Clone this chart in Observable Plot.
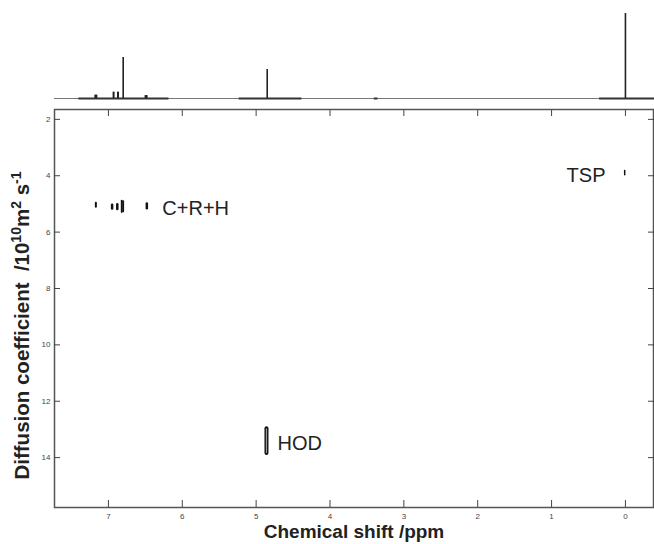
<!DOCTYPE html>
<html>
<head>
<meta charset="utf-8">
<script src="https://cdn.jsdelivr.net/npm/d3@7"></script>
<script src="https://cdn.jsdelivr.net/npm/@observablehq/plot@0.6"></script>
<style>
  html, body { margin: 0; padding: 0; background: #fff; }
  #chart { width: 654px; height: 544px; overflow: hidden; }
  #chart svg { display: block; background: transparent; }
</style>
</head>
<body>
<div id="chart"></div>
<script>
// ---- Data ----
// 1D spectrum (top trace): peak positions (ppm) and relative heights
const peakShift  = [7.17, 6.93, 6.87, 6.80, 6.49, 4.85, 0.00];
const peakHeight = [3.5,  6.5,  6.5,  41.8, 3,    29.6, 86.7];
const peakWidth  = [3,    2,    2,    1.6,  3,    1.6,  1.6];
// recorded baseline regions (ppm)
const baseStart = [7.40, 5.23, 3.40, 0.35];
const baseEnd   = [6.18, 4.38, 3.35, -0.40];

// 2D DOSY cross-peaks: chemical shift, diffusion range (1e-10 m2/s)
const spotShift = [0.01, 7.17, 6.95, 6.88, 6.82, 6.80, 6.48, 4.86];
const spotDLow  = [3.83, 4.98, 5.05, 5.03, 4.90, 4.92, 5.00, 12.98];
const spotDHigh = [3.98, 5.12, 5.18, 5.20, 5.30, 5.28, 5.17, 13.85];
const spotSize  = [1.5,  2,    2.5,  2.5,  1.8,  1.8,  2.5,  4];

// labels
const labelText  = ["TSP", "C+R+H", "HOD"];
const labelShift = [0.27, 6.27, 4.71];
const labelD     = [3.95, 5.14, 13.48];
const labelAnchor = ["end", "start", "start"];

const xTicks = [7, 6, 5, 4, 3, 2, 1, 0];
const yTicks = [2, 4, 6, 8, 10, 12, 14];
const xDomain = [7.73, -0.38];
const yDomain = [1.65, 15.77];

const xTitle = "Chemical shift /ppm";
// y title pieces: [text, superscript?]
const yTitleParts = [["Diffusion coefficient  /10", false], ["10", true], ["m", false], ["2", true], [" s", false], ["-1", true]];
const yTitle = yTitleParts.map(p => p[0]).join("");

const font = "Arial, 'Liberation Sans', Helvetica, sans-serif";

const peaks = peakShift.map((x, i) => ({x, h: peakHeight[i], w: peakWidth[i]}));
const bases = baseStart.map((a, i) => ({a, b: baseEnd[i]}));
const spots = spotShift.map((x, i) => ({x, lo: spotDLow[i], hi: spotDHigh[i], w: spotSize[i]}));
const labels = labelText.map((t, i) => ({t, x: labelShift[i], y: labelD[i], anchor: labelAnchor[i]}));

// ---- Top 1D spectrum ----
const spec = Plot.plot({
  width: 654, height: 107,
  marginLeft: 54, marginRight: 1, marginTop: 0, marginBottom: 9,
  style: {background: "transparent", fontFamily: font},
  x: {domain: xDomain, axis: null},
  y: {domain: [0, 100], axis: null},
  marks: [
    Plot.ruleY([0], {stroke: "#777", strokeWidth: 1}),
    Plot.ruleY(bases, {y: 0, x1: "a", x2: "b", stroke: "#333", strokeWidth: 2}),
    Plot.ruleX(peaks, {x: "x", y1: 0, y2: "h", stroke: "#222", strokeWidth: "w"})
  ]
});

// ---- Main DOSY plot ----
const main = Plot.plot({
  width: 654, height: 437,
  marginLeft: 54, marginRight: 1, marginTop: 2, marginBottom: 37,
  style: {background: "transparent", fontFamily: font},
  x: {domain: xDomain},
  y: {domain: yDomain, reverse: true},
  marks: [
    Plot.frame({stroke: "#555", strokeWidth: 1.5}),
    Plot.axisX({anchor: "bottom", ticks: xTicks, tickSize: -7, tickPadding: 13, fontSize: 8, color: "#444", label: null}),
    Plot.axisX({anchor: "top", ticks: xTicks, tickSize: -6, tickFormat: () => "", color: "#444", label: null}),
    Plot.axisY({anchor: "left", ticks: yTicks, tickSize: -6, tickPadding: 10, fontSize: 8, color: "#444", label: null}),
    Plot.axisY({anchor: "right", ticks: yTicks, tickSize: -6, tickFormat: () => "", color: "#444", label: null}),
    Plot.ruleX(spots, {x: "x", y1: "lo", y2: "hi", stroke: "#111", strokeWidth: "w", strokeLinecap: "round"}),
    Plot.ruleX(spots.filter(d => d.w > 3), {x: "x", y1: "lo", y2: "hi", stroke: "#999", strokeWidth: 1.2, inset: 0}),
    Plot.text(labels.filter(d => d.anchor === "end"), {x: "x", y: "y", text: "t", textAnchor: "end", fontSize: 20, fill: "#222", dy: 1}),
    Plot.text(labels.filter(d => d.anchor === "start"), {x: "x", y: "y", text: "t", textAnchor: "start", fontSize: 20, fill: "#222", dy: 1}),
    Plot.text([xTitle], {frameAnchor: "bottom", dy: 30, fontSize: 19, fontWeight: "bold", fill: "#222"}),
    Plot.text([yTitle], {frameAnchor: "left", textAnchor: "middle", dx: -32, dy: 17, rotate: -90, fontSize: 20.5, fontWeight: "bold", fill: "#222"})
  ]
});

// rebuild the y title with real superscripts
for (const t of main.querySelectorAll("text")) {
  if (t.textContent === yTitle) {
    while (t.firstChild) t.removeChild(t.firstChild);
    const ns = "http://www.w3.org/2000/svg";
    let raised = false;
    for (const [str, sup] of yTitleParts) {
      const ts = document.createElementNS(ns, "tspan");
      ts.textContent = str;
      if (sup) { ts.setAttribute("font-size", 14); if (!raised) { ts.setAttribute("dy", -8); raised = true; } }
      else if (raised) { ts.setAttribute("dy", 8); raised = false; }
      t.appendChild(ts);
    }
  }
}

const el = document.getElementById("chart");
el.appendChild(spec);
el.appendChild(main);
</script>
</body>
</html>
